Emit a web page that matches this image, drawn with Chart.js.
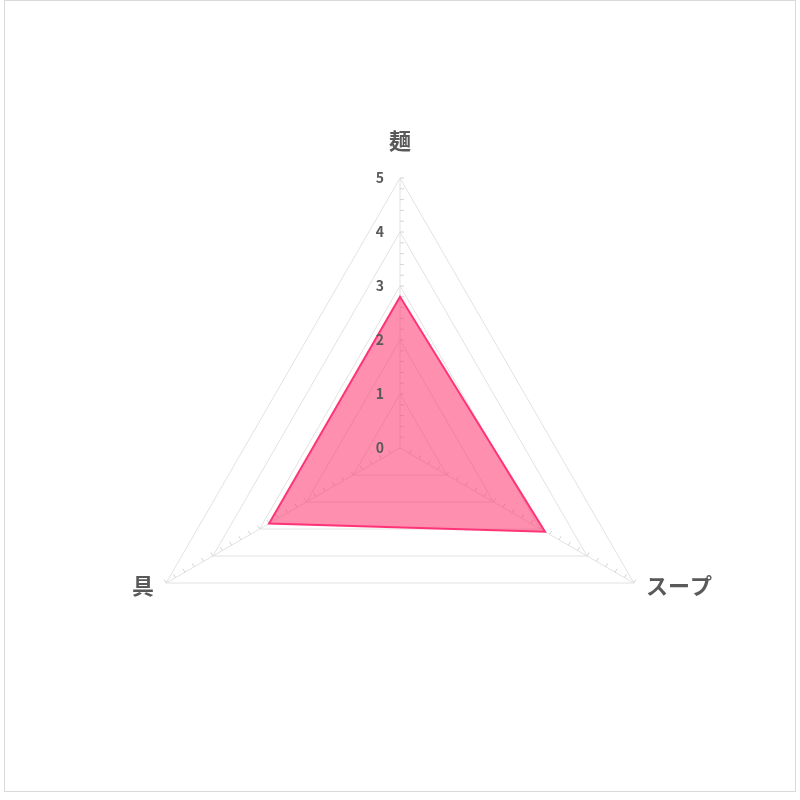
<!DOCTYPE html>
<html lang="ja">
<head>
<meta charset="utf-8">
<title>Radar</title>
<script src="https://cdn.jsdelivr.net/npm/chart.js@4.4.1/dist/chart.umd.min.js"></script>
<style>
    html, body { margin: 0; padding: 0; background: #fff; }
    #wrap { position: relative; width: 800px; height: 800px; }
    #frame {
        position: absolute; left: 4px; top: 0; width: 792px; height: 792px;
        box-sizing: border-box; border: 1px solid #d9d9d9; pointer-events: none;
    }
    canvas { position: absolute; left: 0; top: 0; }
</style>
</head>
<body>
<div id="wrap">
    <canvas id="radarChart" width="800" height="800"></canvas>
    <div id="frame"></div>
</div>
<script>
// Dados
const categories = ['麺', 'スープ', '具'];
const scores = [2.8, 3.1, 2.8];
const tickValues = [0, 1, 2, 3, 4, 5];
const minorStep = 0.2;

const textColor = '#595959';
const gridColor = '#e2e2e2';

// Rótulos, marcas menores e valores do eixo
const radarExtras = {
    id: 'radarExtras',
    beforeDatasetsDraw(chart) {
        const scale = chart.scales.r;
        const ctx = chart.ctx;
        ctx.save();
        ctx.strokeStyle = '#d4d4d4';
        ctx.lineWidth = 1;
        for (let i = 0; i < categories.length; i++) {
            const outer = scale.getPointPosition(i, scale.drawingArea);
            let dx = outer.x - scale.xCenter;
            let dy = outer.y - scale.yCenter;
            const len = Math.sqrt(dx * dx + dy * dy);
            dx /= len; dy /= len;
            // perpendicular pro lado de cima (ou direita no eixo vertical)
            let px = dy, py = -dx;
            if (py > 0.01 || (Math.abs(py) < 0.01 && px < 0)) { px = -px; py = -py; }
            const steps = Math.round(scale.max / minorStep);
            for (let s = 1; s <= steps; s++) {
                const d = scale.getDistanceFromCenterForValue(s * minorStep);
                const p = scale.getPointPosition(i, d);
                ctx.beginPath();
                ctx.moveTo(p.x, p.y);
                ctx.lineTo(p.x + px * 4, p.y + py * 4);
                ctx.stroke();
            }
        }
        ctx.restore();
    },
    afterDatasetsDraw(chart) {
        const scale = chart.scales.r;
        const ctx = chart.ctx;
        ctx.save();
        ctx.fillStyle = textColor;

        // valores do eixo
        ctx.font = 'bold 14px "Noto Sans CJK JP", "Noto Sans", sans-serif';
        ctx.textAlign = 'right';
        ctx.textBaseline = 'middle';
        tickValues.forEach(function(v) {
            const d = scale.getDistanceFromCenterForValue(v);
            ctx.fillText(String(v), scale.xCenter - 16, scale.yCenter - d);
        });

        // nomes das categorias
        ctx.font = 'bold 22px "Noto Sans CJK JP", sans-serif';
        categories.forEach(function(label, i) {
            if (i === 0) {
                const p = scale.getPointPosition(i, scale.drawingArea + 37);
                ctx.textAlign = 'center';
                ctx.fillText(label, p.x, p.y);
            } else {
                const p = scale.getPointPosition(i, scale.drawingArea + 14);
                ctx.textAlign = p.x > scale.xCenter ? 'left' : 'right';
                ctx.fillText(label, p.x, p.y - 4);
            }
        });
        ctx.restore();
    }
};

document.addEventListener('DOMContentLoaded', function() {
    const ctx = document.getElementById('radarChart').getContext('2d');
    const radarChart = new Chart(ctx, {
        type: 'radar',
        data: {
            labels: categories,
            datasets: [{
                label: '評価',
                data: scores,
                backgroundColor: 'rgba(255, 51, 110, 0.55)',
                borderColor: '#ff3377',
                borderWidth: 2,
                pointRadius: 0,
                fill: true
            }]
        },
        options: {
            responsive: false,
            animation: false,
            devicePixelRatio: 1,
            layout: {
                padding: { left: 130, right: 130, top: 178, bottom: 82 }
            },
            scales: {
                r: {
                    min: 0,
                    max: 5,
                    ticks: { stepSize: 1, display: false },
                    grid: { color: gridColor, lineWidth: 1 },
                    angleLines: { color: gridColor, lineWidth: 1 },
                    pointLabels: { display: false }
                }
            },
            plugins: {
                legend: { display: false },
                tooltip: { enabled: false }
            }
        },
        plugins: [radarExtras]
    });
});
</script>
</body>
</html>
